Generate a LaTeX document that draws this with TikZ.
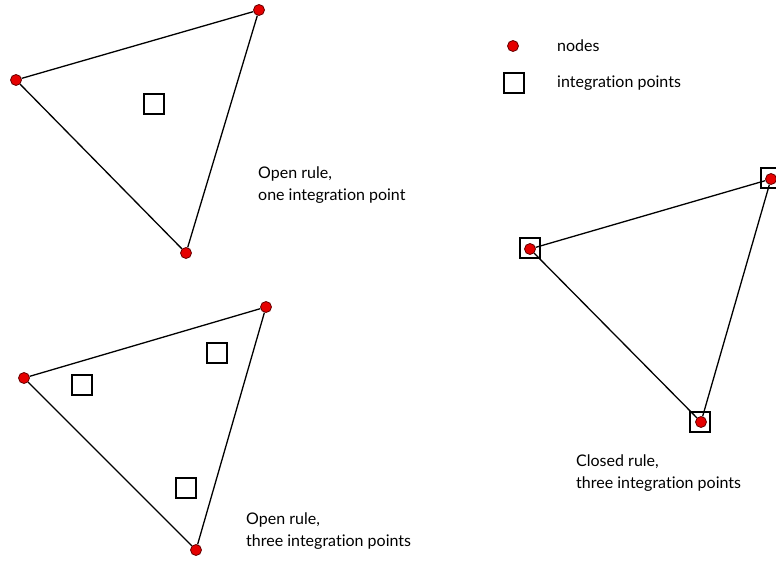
\documentclass[tikz,border=0pt]{standalone}
\usepackage{fontspec}
\setmainfont[Ligatures={NoCommon,NoContextual}]{Lato}
\begin{document}
\begin{tikzpicture}[x=1pt,y=-1pt,
  edge/.style={line width=1.3pt},
  fem/.style={circle,fill=red!90!black,draw=red!40!black,line width=0.8pt,minimum size=11pt,inner sep=0pt},
  ipt/.style={rectangle,draw=black,line width=1.4pt,fill=none,minimum size=20pt,inner sep=0pt},
  lbl/.style={align=left,anchor=north west,inner sep=0pt,font=\fontsize{16}{22}\selectfont}]
\useasboundingbox (0,0) rectangle (776,561);
% triangle 1
\node[ipt] (s1) at (154,104) {};
\node[fem] (a1) at (16,80) {};
\node[fem] (b1) at (259,10) {};
\node[fem] (c1) at (186,253) {};
\draw[edge] (a1) -- (b1) -- (c1) -- (a1);
\node[lbl] (t1) at (258,167) {Open rule,\\one integration point};
% triangle 2
\node[ipt] (s2a) at (217,353) {};
\node[ipt] (s2b) at (82,385) {};
\node[ipt] (s2c) at (186,488) {};
\node[fem] (a2) at (24,378) {};
\node[fem] (b2) at (266,307) {};
\node[fem] (c2) at (196,550) {};
\draw[edge] (a2) -- (b2) -- (c2) -- (a2);
\node[lbl] (t2) at (246,513) {Open rule,\\three integration points};
% triangle 3
\node[ipt] (s3a) at (530,248) {};
\node[ipt] (s3b) at (771,178) {};
\node[ipt] (s3c) at (700,422) {};
\node[fem] (a3) at (530,249) {};
\node[fem] (b3) at (771,179) {};
\node[fem] (c3) at (701,422) {};
\draw[edge] (a3) -- (b3) -- (c3) -- (a3);
\node[lbl] (t3) at (576,455) {Closed rule,\\three integration points};
% legend
\node[fem] (lg1) at (513,46) {};
\node[lbl,anchor=west] (lt1) at (557,46) {nodes};
\node[ipt] (lg2) at (514,83) {};
\node[lbl,anchor=west] (lt2) at (557,83) {integration points};
\end{tikzpicture}
\end{document}
